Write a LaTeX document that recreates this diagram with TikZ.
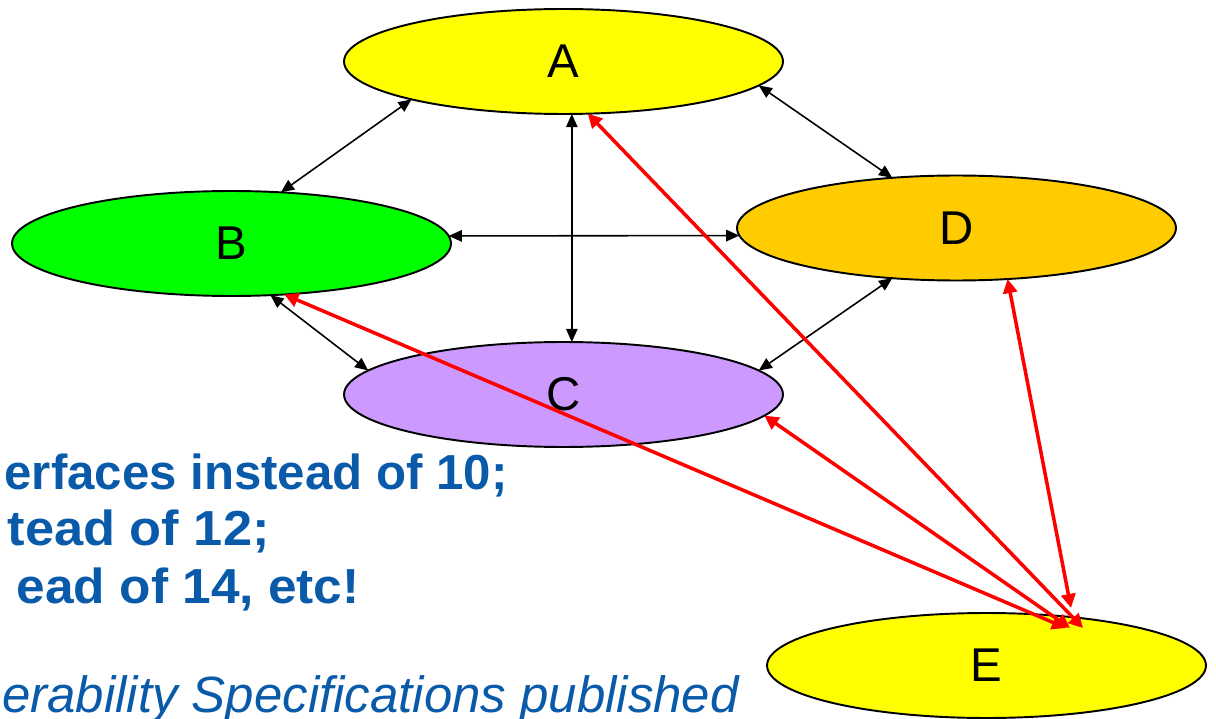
\documentclass[tikz,border=0pt]{standalone}
\usepackage{fontspec}
\setmainfont{Liberation Sans}
\usetikzlibrary{arrows.meta,shapes.geometric}
\definecolor{cA}{HTML}{FFFF00}
\definecolor{cB}{HTML}{00FF00}
\definecolor{cC}{HTML}{CC99FF}
\definecolor{cD}{HTML}{FFCC00}
\definecolor{txtblue}{RGB}{10,90,170}
\definecolor{redline}{HTML}{FF0000}
\begin{document}
\begin{tikzpicture}[x=0.02cm,y=-0.02cm,
  blob/.style={ellipse,draw=black,line width=1.1pt,minimum width=8.78cm,minimum height=2.1cm,inner sep=0pt,outer sep=0pt,font=\fontsize{27}{27}\selectfont},
  link/.style={black,line width=0.9pt,{Triangle[length=7.5pt,width=6.5pt]}-{Triangle[length=7.5pt,width=6.5pt]}},
  redlink/.style={redline,line width=2pt,{Triangle[length=8pt,width=8pt]}-{Triangle[length=8pt,width=8pt]}},
  note/.style={text=txtblue,font=\bfseries\fontsize{28}{28}\selectfont,inner sep=0pt,anchor=base east},
  inote/.style={text=txtblue,font=\itshape\fontsize{29}{29}\selectfont,inner sep=0pt,anchor=base west}
]
\useasboundingbox (0,0) rectangle (1216,719);
\clip (0,0) rectangle (1216,719);

\node[blob,fill=cA] (A) at (563.5,61.5) {A};
\node[blob,fill=cB] (B) at (231.5,243.5) {B};
\node[blob,fill=cD] (D) at (956.5,228) {D};
\node[blob,fill=cC] (C) at (563.5,394.5) {C};
\node[blob,fill=cA] (E) at (986.5,665.5) {E};

\node[note] (t1) at (508,489) {erfaces instead of 10;};
\node[note] (t2) at (270,545) {\addfontfeature{FakeStretch=1.065}tead of 12;};
\node[note] (t3) at (360,603) {\addfontfeature{FakeStretch=1.045}ead of 14, etc!};
\node[inote] (t4) at (2,712) {erability Specifications published};

\draw[link] (A.194) -- (B.46);
\draw[link] (A.-7) -- (D.142);
\draw[link] (A.-81) -- (C.81);
\draw[link] (B.2) -- (D.182);
\draw[link] (B.-53) -- (C.173);
\draw[link] (D.218) -- (C.7);

\coordinate (eA) at (1083,628);
\coordinate (eB) at (1066,628);
\coordinate (eC) at (1070,628);
\coordinate (eD) at (1071,608);
\draw[redlink] (A.-65) -- (eA);
\draw[redlink] (B.-44.5) -- (eB);
\draw[redlink] (C.-6) -- (eC);
\draw[redlink] (D.-45) -- (eD);
\end{tikzpicture}
\end{document}
